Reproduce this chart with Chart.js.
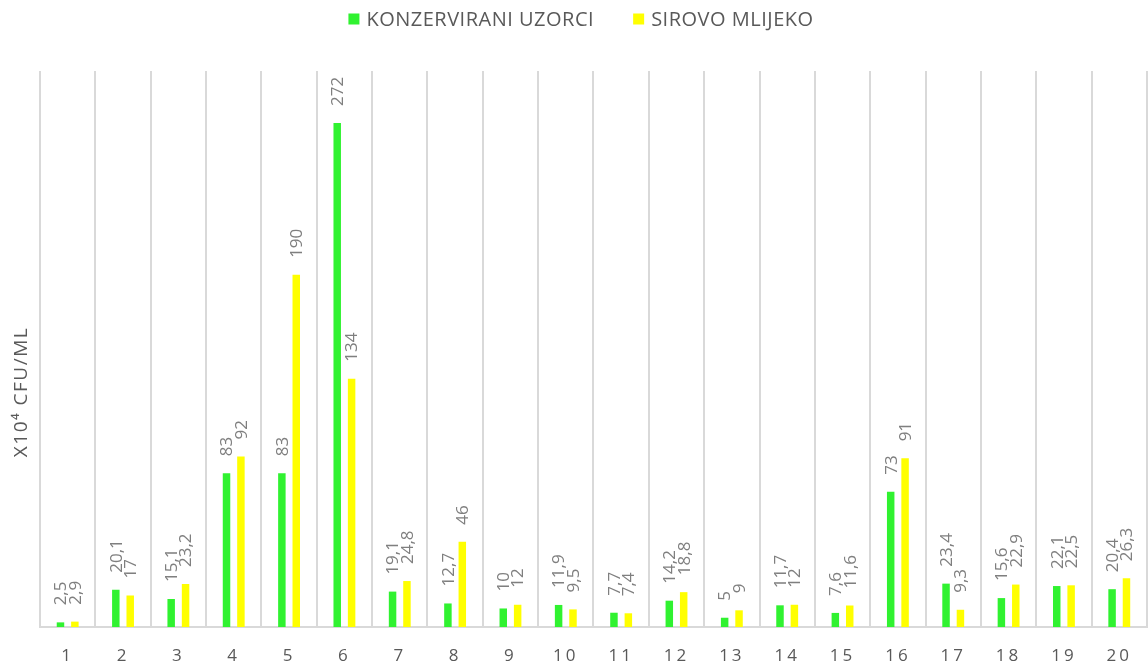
<!DOCTYPE html>
<html>
<head>
<meta charset="utf-8">
<script src="https://cdn.jsdelivr.net/npm/chart.js@4/dist/chart.umd.min.js"></script>
<style>
  html, body { margin: 0; padding: 0; background: #fff; overflow: hidden; }
  #wrap { width: 1148px; height: 666px; }
</style>
</head>
<body>
<div id="wrap"><canvas id="bacteriaChart"></canvas></div>
<script>
const samples = ["1", "2", "3", "4", "5", "6", "7", "8", "9", "10",
  "11", "12", "13", "14", "15", "16", "17", "18", "19", "20"];
const konzervirani = [2.5, 20.1, 15.1, 83, 83, 272, 19.1, 12.7, 10, 11.9,
  7.7, 14.2, 5, 11.7, 7.6, 73, 23.4, 15.6, 22.1, 20.4];
const sirovo = [2.9, 17, 23.2, 92, 190, 134, 24.8, 46, 12, 9.5,
  7.4, 18.8, 9, 12, 11.6, 91, 9.3, 22.9, 22.5, 26.3];
const seriesNames = ["KONZERVIRANI UZORCI", "SIROVO MLIJEKO"];
const seriesColors = ["#30f230", "#ffff00"];
const yTitle = "X10\u2074 CFU/ML";

const fontFamily = "'Open Sans', 'DejaVu Sans', sans-serif";

// spaced-out category numbers, like the original
const spacing = {
  id: "spacing",
  beforeDraw(chart) { chart.ctx.letterSpacing = "3px"; },
  beforeDatasetsDraw(chart) { chart.ctx.letterSpacing = "0px"; }
};

// rotated value labels above each bar
const barLabels = {
  id: "barLabels",
  afterDatasetsDraw(chart) {
    const ctx = chart.ctx;
    ctx.save();
    ctx.letterSpacing = "0px";
    ctx.font = "17px " + fontFamily;
    ctx.fillStyle = "#7f7f7f";
    ctx.textAlign = "left";
    ctx.textBaseline = "middle";
    chart.data.datasets.forEach((ds, i) => {
      chart.getDatasetMeta(i).data.forEach((bar, j) => {
        const txt = String(ds.data[j]).replace(".", ",");
        ctx.save();
        ctx.translate(bar.x + 1, bar.y - 17);
        ctx.rotate(-Math.PI / 2);
        ctx.fillText(txt, 0, 0);
        ctx.restore();
      });
    });
    ctx.restore();
  }
};

// legend + y axis title
const decorations = {
  id: "decorations",
  afterDraw(chart) {
    const ctx = chart.ctx;
    ctx.save();
    ctx.fillStyle = "#595959";
    ctx.letterSpacing = "1.5px";
    ctx.font = "19px " + fontFamily;
    ctx.textAlign = "center";
    ctx.textBaseline = "middle";
    ctx.save();
    ctx.translate(22, 392);
    ctx.rotate(-Math.PI / 2);
    ctx.fillText(yTitle, 0, 0);
    ctx.restore();

    ctx.letterSpacing = "0.5px";
    ctx.font = "20px " + fontFamily;
    ctx.textAlign = "left";
    const box = 11, gapText = 7, gapItem = 39;
    const widths = seriesNames.map(n => ctx.measureText(n).width);
    const total = widths.reduce((a, w) => a + box + gapText + w, 0) + gapItem;
    let x = 581 - total / 2;
    const y = 19;
    seriesNames.forEach((n, i) => {
      ctx.fillStyle = seriesColors[i];
      ctx.fillRect(x, y - box / 2, box, box);
      ctx.fillStyle = "#595959";
      ctx.fillText(n, x + box + gapText, y + 1);
      x += box + gapText + widths[i] + gapItem;
    });
    ctx.restore();
  }
};

new Chart(document.getElementById("bacteriaChart"), {
  type: "bar",
  data: {
    labels: samples,
    datasets: [
      { label: seriesNames[0], data: konzervirani, backgroundColor: seriesColors[0] },
      { label: seriesNames[1], data: sirovo, backgroundColor: seriesColors[1] }
    ]
  },
  options: {
    responsive: true,
    maintainAspectRatio: false,
    animation: false,
    datasets: { bar: { categoryPercentage: 0.52, barPercentage: 0.52 } },
    layout: { padding: { left: 40, right: 0, top: 71, bottom: 0 } },
    plugins: {
      legend: { display: false },
      tooltip: { enabled: false },
      title: { display: false }
    },
    scales: {
      x: {
        grid: { color: "#d9d9d9", lineWidth: 2, drawTicks: false, offset: true },
        border: { color: "#d9d9d9", width: 2 },
        ticks: { color: "#595959", padding: 19, font: { family: fontFamily, size: 17 } },
        afterFit: (scale) => { scale.height = 39; }
      },
      y: {
        display: false,
        min: 0,
        max: 300
      }
    }
  },
  plugins: [spacing, barLabels, decorations]
});
</script>
</body>
</html>
